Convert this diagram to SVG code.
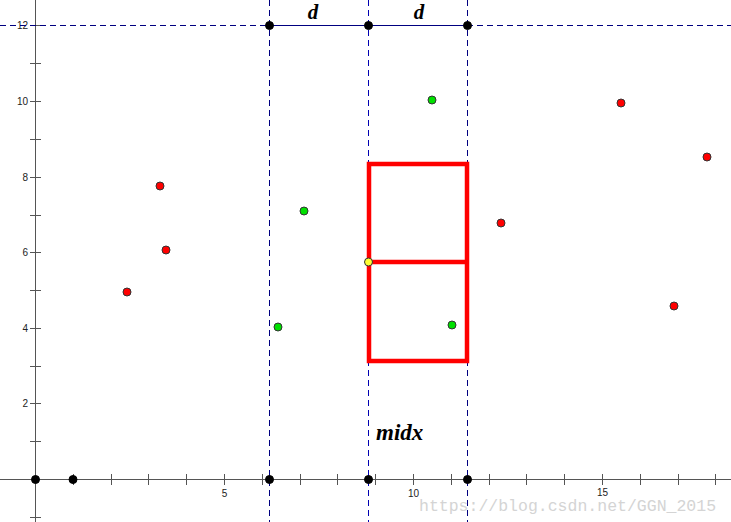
<svg xmlns="http://www.w3.org/2000/svg" width="731" height="522" viewBox="0 0 731 522">
<style>
.axis{stroke:#555;stroke-width:1;fill:none}
.tick{stroke:#555;stroke-width:1}
.lbl{font-family:"Liberation Sans",Arial,sans-serif;font-size:10px;fill:#222}
.dash{stroke:#000080;stroke-width:1;stroke-dasharray:6 4;fill:none}
.dashm{stroke:#0000b0;stroke-width:1;stroke-dasharray:6 4;fill:none}
.pb{fill:#000;stroke:#000;stroke-width:1}
.pr{fill:#ff0000;stroke:#333;stroke-width:1}
.pg{fill:#00e000;stroke:#333;stroke-width:1}
.py{fill:#ffff33;stroke:#333;stroke-width:1}
.math{font-family:"Liberation Serif","Times New Roman",serif;font-style:italic;font-weight:bold;fill:#000}
.wm{font-family:"Liberation Mono","Courier New",monospace;font-size:16.5px;fill:#d4d4d4}
</style>
<rect width="731" height="522" fill="#fff"/>
<g id="axes">
<line class="axis" x1="0" y1="479.5" x2="731" y2="479.5"/>
<line class="axis" x1="35.5" y1="0" x2="35.5" y2="522"/>
<path class="tick" d="M73.5 474V485M111.5 474V485M148.5 474V485M186.5 474V485M224.5 474V485M262.5 474V485M300.5 474V485M337.5 474V485M375.5 474V485M413.5 474V485M451.5 474V485M489.5 474V485M526.5 474V485M564.5 474V485M602.5 474V485M640.5 474V485M678.5 474V485M715.5 474V485"/>
<path class="tick" d="M30 517.5H41M30 441.5H41M30 403.5H41M30 366.5H41M30 328.5H41M30 290.5H41M30 252.5H41M30 215.5H41M30 177.5H41M30 139.5H41M30 101.5H41M30 63.5H41M30 25.5H41"/>
<text class="lbl" x="224.5" y="497" text-anchor="middle">5</text>
<text class="lbl" x="413.5" y="497" text-anchor="middle">10</text>
<text class="lbl" x="602.5" y="496" text-anchor="middle">15</text>
<text class="lbl" x="28" y="407" text-anchor="end">2</text>
<text class="lbl" x="28" y="332" text-anchor="end">4</text>
<text class="lbl" x="28" y="256" text-anchor="end">6</text>
<text class="lbl" x="28" y="181" text-anchor="end">8</text>
<text class="lbl" x="28" y="105" text-anchor="end">10</text>
<text class="lbl" x="28" y="29" text-anchor="end">12</text>
</g>
<g id="connectors">
<line class="dash" x1="0" y1="25.5" x2="269" y2="25.5"/>
<line class="dash" x1="467" y1="25.5" x2="731" y2="25.5"/>
<line stroke="#000080" stroke-width="1" x1="269" y1="25.5" x2="467" y2="25.5"/>
<line class="dash" x1="269.5" y1="0" x2="269.5" y2="522"/>
<line class="dashm" x1="368.5" y1="0" x2="368.5" y2="522"/>
<line class="dash" x1="467.5" y1="0" x2="467.5" y2="522"/>
</g>
<g id="box">
<rect x="369" y="164" width="98" height="197" fill="none" stroke="#ff0000" stroke-width="4.5"/>
<line x1="369" y1="262" x2="467" y2="262" stroke="#ff0000" stroke-width="4.5"/>
</g>
<g id="black-points">
<circle class="pb" cx="35.5" cy="479.5" r="4"/>
<circle class="pb" cx="73" cy="479.5" r="4"/>
<circle class="pb" cx="269.5" cy="479.5" r="4"/>
<circle class="pb" cx="368.5" cy="479.5" r="4"/>
<circle class="pb" cx="467.5" cy="479.5" r="4"/>
<circle class="pb" cx="269.5" cy="25.5" r="4"/>
<circle class="pb" cx="368.5" cy="25.5" r="4"/>
<circle class="pb" cx="467.5" cy="25.5" r="4"/>
</g>
<g id="red-points">
<circle class="pr" cx="127" cy="292" r="4"/>
<circle class="pr" cx="160" cy="186" r="4"/>
<circle class="pr" cx="166" cy="250" r="4"/>
<circle class="pr" cx="501" cy="223" r="4"/>
<circle class="pr" cx="621" cy="103" r="4"/>
<circle class="pr" cx="707" cy="157" r="4"/>
<circle class="pr" cx="674" cy="306" r="4"/>
</g>
<g id="green-points">
<circle class="pg" cx="432" cy="100" r="4"/>
<circle class="pg" cx="304" cy="211" r="4"/>
<circle class="pg" cx="278" cy="327" r="4"/>
<circle class="pg" cx="452" cy="325" r="4"/>
</g>
<g id="mid-point">
<circle class="py" cx="368.5" cy="262" r="4"/>
</g>
<g id="labels">
<text class="math" x="313" y="19" font-size="21" text-anchor="middle">d</text>
<text class="math" x="419" y="19" font-size="21" text-anchor="middle">d</text>
<text class="math" x="376" y="440" font-size="23">midx</text>
</g>
<text class="wm" x="419" y="511">https://blog.csdn.net/GGN_2015</text>
</svg>
